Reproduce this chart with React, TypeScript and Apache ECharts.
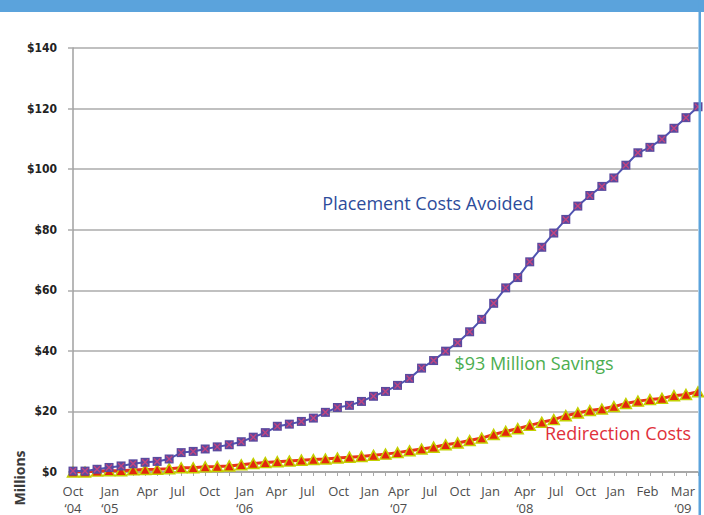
import React, { useEffect, useRef } from "react";
import * as echarts from "echarts";

const months = [
  "Oct 04", "Nov 04", "Dec 04",
  "Jan 05", "Feb 05", "Mar 05", "Apr 05", "May 05", "Jun 05", "Jul 05", "Aug 05", "Sep 05", "Oct 05", "Nov 05", "Dec 05",
  "Jan 06", "Feb 06", "Mar 06", "Apr 06", "May 06", "Jun 06", "Jul 06", "Aug 06", "Sep 06", "Oct 06", "Nov 06", "Dec 06",
  "Jan 07", "Feb 07", "Mar 07", "Apr 07", "May 07", "Jun 07", "Jul 07", "Aug 07", "Sep 07", "Oct 07", "Nov 07", "Dec 07",
  "Jan 08", "Feb 08", "Mar 08", "Apr 08", "May 08", "Jun 08", "Jul 08", "Aug 08", "Sep 08", "Oct 08", "Nov 08", "Dec 08",
  "Jan 09", "Feb 09",
];

const placementCosts = [
  0.3, 0.3, 0.9, 1.5, 2.0, 2.7, 3.2, 3.5, 4.3, 6.4, 6.8, 7.6, 8.3, 9.0, 10.0, 11.5,
  13.0, 15.1, 15.8, 16.7, 17.8, 19.7, 21.3, 22.0, 23.3, 25.0, 26.6, 28.6, 30.9, 34.3,
  36.8, 39.9, 42.7, 46.3, 50.4, 55.7, 60.8, 64.2, 69.4, 74.2, 78.9, 83.4, 87.8, 91.3,
  94.3, 97.1, 101.3, 105.4, 107.2, 109.9, 113.5, 117.0, 120.6,
];

const redirectionCosts = [
  0, 0, 0.3, 0.4, 0.4, 0.7, 0.8, 0.9, 1.1, 1.4, 1.4, 1.7, 1.8, 2.0, 2.4, 2.8,
  3.1, 3.4, 3.6, 3.9, 4.1, 4.3, 4.6, 4.9, 5.1, 5.5, 5.9, 6.4, 7.0, 7.6,
  8.2, 9.0, 9.6, 10.4, 11.2, 12.4, 13.4, 14.3, 15.4, 16.4, 17.3, 18.6, 19.5, 20.3,
  20.8, 21.6, 22.6, 23.4, 23.9, 24.3, 25.2, 25.6, 26.5,
];

// tick labels and where they sit (in month-index units along the axis)
const xLabels = [
  "Oct\n‘04", "Jan\n‘05", "Apr", "Jul", "Oct", "Jan\n‘06", "Apr", "Jul", "Oct", "Jan",
  "Apr\n‘07", "Jul", "Oct", "Jan", "Apr\n‘08", "Jul", "Oct", "Jan", "Feb", "Mar\n‘09",
];
const xLabelPos = [
  0, 3.06, 6.19, 8.7, 11.37, 14.29, 16.93, 19.5, 22.1, 24.7,
  27.1, 29.7, 32.2, 34.75, 37.6, 40.2, 42.65, 45.15, 47.8, 50.75,
];

const yMin = 0;
const yMax = 140;
const yStep = 20;

const annotations = [
  { text: "Placement Costs Avoided", color: "#2d4c9b", x: 428, y: 203 },
  { text: "$93 Million Savings", color: "#4cae50", x: 534, y: 363 },
  { text: "Redirection Costs", color: "#e0303b", x: 618, y: 433 },
];

const BLUE = "#5ba3dc";

export default function App() {
  const ref = useRef<HTMLDivElement>(null);

  useEffect(() => {
    if (!ref.current) return;
    const chart = echarts.init(ref.current, null, { renderer: "svg", width: 704, height: 515 });
    const xPath = "path://M0,1.4L1.4,0L10,8.6L8.6,10Z M8.6,0L10,1.4L1.4,10L0,8.6Z";

    chart.setOption({
      animation: false,
      backgroundColor: "#ffffff",
      grid: {
        left: 73, right: 6, top: 48, bottom: 43,
        containLabel: false, outerBoundsMode: "none",
      },
      xAxis: [
        {
          type: "category",
          data: months,
          boundaryGap: false,
          position: "bottom",
          offset: 0,
          axisLine: { show: true, lineStyle: { color: "#a0a0a0", width: 1.5 } },
          axisTick: { show: true, interval: 0, length: 4, lineStyle: { color: "#a8a8a8", width: 1 } },
          axisLabel: { show: false },
          splitLine: { show: false },
        },
        {
          type: "value",
          min: 0,
          max: months.length - 1,
          position: "bottom",
          offset: 0,
          axisLine: { show: false },
          axisTick: { show: false },
          splitLine: { show: false },
          axisLabel: {
            show: true,
            customValues: xLabelPos,
            margin: 10,
            color: "#4d4d4d",
            fontSize: 13,
            lineHeight: 17,
            fontFamily: "'Open Sans', sans-serif",
            formatter: (v: number) => {
              let best = 0;
              let bd = Infinity;
              xLabelPos.forEach((p, i) => {
                const d = Math.abs(p - v);
                if (d < bd) { bd = d; best = i; }
              });
              return bd < 0.01 ? xLabels[best] : "";
            },
          },
        },
      ],
      yAxis: {
        type: "value",
        min: yMin,
        max: yMax,
        interval: yStep,
        offset: 5,
        axisLine: { show: true, lineStyle: { color: "#a0a0a0", width: 1.5 } },
        axisTick: { show: true, length: 5, lineStyle: { color: "#ababab", width: 1.5 } },
        axisLabel: {
          margin: 11,
          color: "#222222",
          fontSize: 12,
          fontWeight: "bold",
          fontFamily: "'DejaVu Sans Condensed', 'Liberation Sans Narrow', sans-serif",
          formatter: (v: number) => "$" + v,
        },
        splitLine: { show: true, lineStyle: { color: "#ababab", width: 1.5 } },
      },
      series: [
        {
          name: "Redirection Costs",
          type: "line",
          data: redirectionCosts,
          xAxisIndex: 0,
          symbol: "triangle",
          symbolSize: [11, 10],
          showSymbol: true,
          showAllSymbol: true,
          lineStyle: { color: "#e8321c", width: 3 },
          itemStyle: { color: "#e3260c", borderColor: "#c3d000", borderWidth: 1.5 },
          z: 3,
        },
        {
          name: "Placement Costs Avoided",
          type: "line",
          data: placementCosts,
          xAxisIndex: 0,
          symbol: "rect",
          symbolSize: 9,
          showSymbol: true,
          showAllSymbol: true,
          lineStyle: { color: "#4f54b2", width: 2 },
          itemStyle: { color: "#5a4a9f" },
          z: 4,
        },
        {
          name: "Placement marker cross",
          type: "line",
          data: placementCosts,
          xAxisIndex: 0,
          symbol: xPath,
          symbolSize: 7,
          showSymbol: true,
          showAllSymbol: true,
          lineStyle: { opacity: 0, width: 0 },
          itemStyle: { color: "#c2457f" },
          silent: true,
          z: 5,
        },
      ],
      graphic: [
        {
          type: "rect",
          z: 100,
          shape: { x: 0, y: 0, width: 704, height: 12 },
          style: { fill: BLUE },
        },
        {
          type: "rect",
          z: 100,
          shape: { x: 698.5, y: 0, width: 2.5, height: 515 },
          style: { fill: BLUE },
        },
        ...annotations.map((a) => ({
          type: "text",
          z: 50,
          x: a.x,
          y: a.y,
          style: {
            text: a.text,
            fill: a.color,
            font: "18px 'Open Sans', sans-serif",
            textAlign: "center",
            textVerticalAlign: "middle",
          },
        })),
        {
          type: "text",
          z: 50,
          x: 19,
          y: 478,
          rotation: Math.PI / 2,
          style: {
            text: "Millions",
            fill: "#3a3a3a",
            font: "bold 14px 'Open Sans', sans-serif",
            textAlign: "center",
            textVerticalAlign: "middle",
          },
        },
      ],
    });

    return () => chart.dispose();
  }, []);

  return (
    <div
      ref={ref}
      style={{ position: "fixed", left: 0, top: 0, width: 704, height: 515, background: "#fff" }}
    />
  );
}
